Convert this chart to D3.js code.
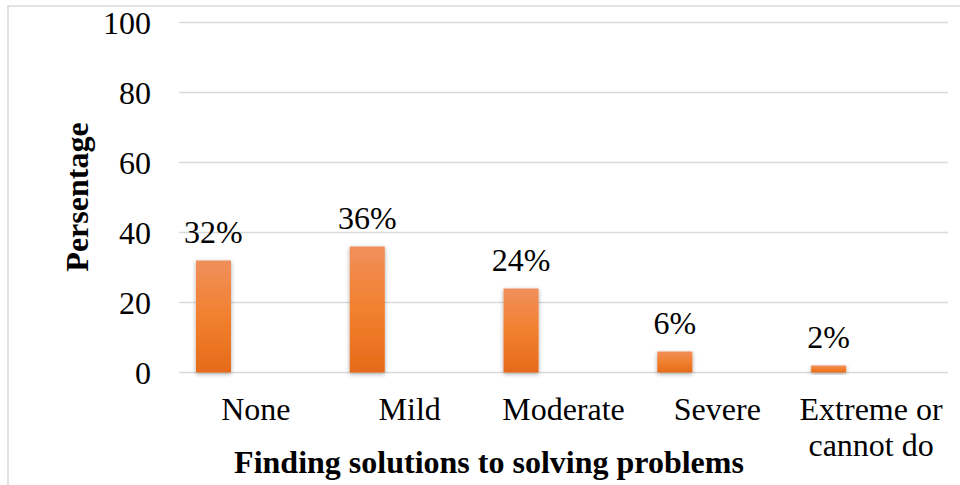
<!DOCTYPE html>
<html>
<head>
<meta charset="utf-8">
<script src="https://cdn.jsdelivr.net/npm/d3@7/dist/d3.min.js"></script>
<style>
  html, body { margin: 0; padding: 0; background: #fff; }
  svg text { font-family: "Liberation Serif", "Times New Roman", serif !important; }
</style>
</head>
<body>
<svg id="chart" width="960" height="485"></svg>
<script>
// Severity levels and the share of respondents at each level
const categories = ["None", "Mild", "Moderate", "Severe", "Extreme or cannot do"];
const categoryLines = [["None"], ["Mild"], ["Moderate"], ["Severe"], ["Extreme or", "cannot do"]];
const values = [32, 36, 24, 6, 2];
const valueLabels = ["32%", "36%", "24%", "6%", "2%"];
const yTicks = [0, 20, 40, 60, 80, 100];
const xTitle = "Finding solutions to solving problems";
const yTitle = "Persentage";

const svg = d3.select("#chart");
const W = 960, H = 485;
const plot = { left: 179, right: 948, top: 22.5, bottom: 372.5 };
const FS = 32;

// Outer chart border
svg.append("rect")
  .attr("x", 8).attr("y", 6).attr("width", W).attr("height", H + 10)
  .attr("fill", "#fff").attr("stroke", "#d9d9d9").attr("stroke-width", 1.5);

const x = d3.scaleBand().domain(categories).range([plot.left, plot.right]).paddingInner(0).paddingOuter(0);
const y = d3.scaleLinear().domain([0, 100]).range([plot.bottom, plot.top]);

// Bar gradient and soft shadow
const defs = svg.append("defs");
const grad = defs.append("linearGradient").attr("id", "barGrad")
  .attr("x1", 0).attr("y1", 0).attr("x2", 0).attr("y2", 1);
grad.append("stop").attr("offset", "0%").attr("stop-color", "#f08f5c");
grad.append("stop").attr("offset", "50%").attr("stop-color", "#f2802e");
grad.append("stop").attr("offset", "100%").attr("stop-color", "#e56b1a");
const shadow = defs.append("filter").attr("id", "barShadow")
  .attr("x", "-40%").attr("y", "-20%").attr("width", "180%").attr("height", "150%");
shadow.append("feDropShadow").attr("dx", 0).attr("dy", 1.5).attr("stdDeviation", 2.2)
  .attr("flood-color", "#000").attr("flood-opacity", 0.35);

// Gridlines
svg.append("g").selectAll("line").data(yTicks).join("line")
  .attr("x1", plot.left).attr("x2", plot.right)
  .attr("y1", d => y(d)).attr("y2", d => y(d))
  .attr("stroke", "#d9d9d9").attr("stroke-width", 1.5);

// Y axis tick labels
const yAxis = d3.axisLeft(y).tickValues(yTicks).tickSize(0).tickPadding(0).tickFormat(d3.format("d"));
svg.append("g").attr("transform", "translate(151,0)").call(yAxis)
  .attr("font-family", null).attr("font-size", null)
  .call(g => g.select(".domain").remove())
  .selectAll("text")
  .attr("font-size", FS).attr("fill", "#000").attr("dy", "0.33em");

// Bars sit in the left part of each category slot
const barOffset = 0.11, barWidth = 0.228;
svg.append("g").selectAll("rect").data(values).join("rect")
  .attr("x", (d, i) => x(categories[i]) + x.bandwidth() * barOffset)
  .attr("width", x.bandwidth() * barWidth)
  .attr("y", d => y(d))
  .attr("height", d => y(0) - y(d))
  .attr("fill", "url(#barGrad)")
  .attr("filter", "url(#barShadow)");

// Value labels above the bars
svg.append("g").selectAll("text").data(values).join("text")
  .attr("x", (d, i) => x(categories[i]) + x.bandwidth() * (barOffset + barWidth / 2))
  .attr("y", d => y(d) - 18)
  .attr("text-anchor", "middle")
  .attr("font-size", FS).attr("fill", "#000")
  .text((d, i) => valueLabels[i]);

// Category labels, wrapped where needed
const catG = svg.append("g").selectAll("text").data(categories).join("text")
  .attr("x", d => x(d) + x.bandwidth() / 2)
  .attr("y", 420)
  .attr("text-anchor", "middle")
  .attr("font-size", FS).attr("fill", "#000");
catG.each(function (d, i) {
  const t = d3.select(this);
  categoryLines[i].forEach((line, k) => {
    t.append("tspan").attr("x", x(d) + x.bandwidth() / 2).attr("dy", k === 0 ? 0 : 36).text(line);
  });
});

// Axis titles
svg.append("text")
  .attr("x", 489).attr("y", 473)
  .attr("text-anchor", "middle")
  .attr("font-size", FS).attr("font-weight", "bold").attr("fill", "#000")
  .text(xTitle);

svg.append("text")
  .attr("transform", "translate(88,197) rotate(-90)")
  .attr("text-anchor", "middle")
  .attr("font-size", FS).attr("font-weight", "bold").attr("fill", "#000")
  .text(yTitle);
</script>
</body>
</html>
